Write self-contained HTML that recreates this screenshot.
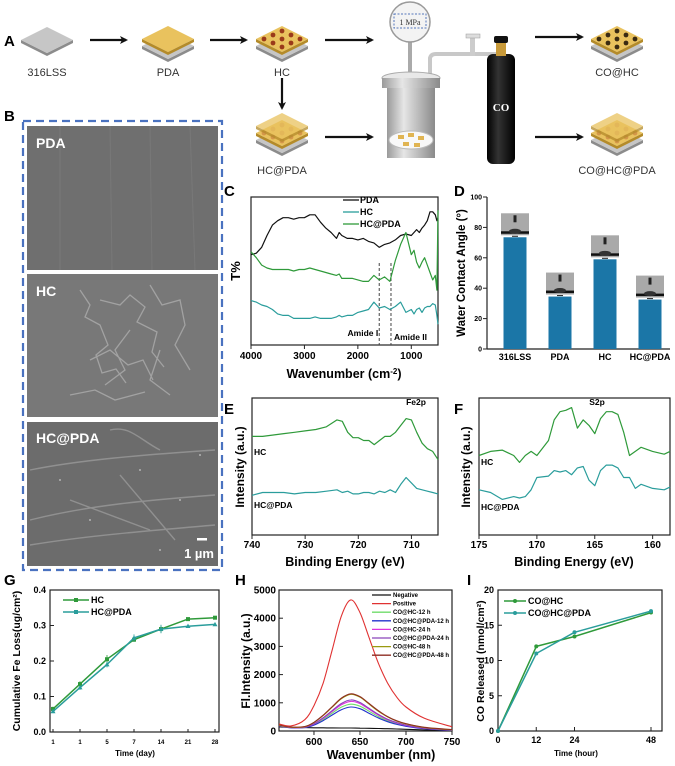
<!DOCTYPE html>
<html><head><meta charset="utf-8">
<style>
html,body{margin:0;padding:0;background:#fff;}
svg{display:block;font-family:"Liberation Sans",Arial,sans-serif;}
.b{font-weight:bold;}
</style></head>
<body>
<svg id="fig" width="675" height="766" viewBox="0 0 675 766" xmlns="http://www.w3.org/2000/svg">
<defs>
<marker id="ar" markerWidth="8" markerHeight="8" refX="6" refY="4" orient="auto" markerUnits="userSpaceOnUse"><path d="M0,0 L8,4 L0,8 L2,4 Z" fill="#111"/></marker>
<g id="steel"><polygon points="-26,0 0,13 26,0 26,3 0,16 -26,3" fill="#8c8c8c"/><polygon points="0,-13 26,0 0,13 -26,0" fill="#c6c6c6"/></g>
<g id="gold"><polygon points="-26,0 0,13 26,0 26,3 0,16 -26,3" fill="#b48b2a"/><polygon points="0,-13 26,0 0,13 -26,0" fill="#e9c25e"/></g>
<g id="dotsR"><circle cx="0" cy="-8" r="2.4" fill="#9a3a1a"/><circle cx="-9" cy="-4" r="2.4" fill="#9a3a1a"/><circle cx="9" cy="-4" r="2.4" fill="#9a3a1a"/><circle cx="-18" cy="0" r="2.4" fill="#9a3a1a"/><circle cx="0" cy="0" r="2.4" fill="#9a3a1a"/><circle cx="18" cy="0" r="2.4" fill="#9a3a1a"/><circle cx="-9" cy="4" r="2.4" fill="#9a3a1a"/><circle cx="9" cy="4" r="2.4" fill="#9a3a1a"/><circle cx="0" cy="8" r="2.4" fill="#9a3a1a"/></g>
<g id="dotsD"><circle cx="0" cy="-8" r="2.4" fill="#3a2a12"/><circle cx="-9" cy="-4" r="2.4" fill="#3a2a12"/><circle cx="9" cy="-4" r="2.4" fill="#3a2a12"/><circle cx="-18" cy="0" r="2.4" fill="#3a2a12"/><circle cx="0" cy="0" r="2.4" fill="#3a2a12"/><circle cx="18" cy="0" r="2.4" fill="#3a2a12"/><circle cx="-9" cy="4" r="2.4" fill="#3a2a12"/><circle cx="9" cy="4" r="2.4" fill="#3a2a12"/><circle cx="0" cy="8" r="2.4" fill="#3a2a12"/></g>
<g id="dotsL"><circle cx="0" cy="-8" r="2.4" fill="#d4964a"/><circle cx="-9" cy="-4" r="2.4" fill="#d4964a"/><circle cx="9" cy="-4" r="2.4" fill="#d4964a"/><circle cx="-18" cy="0" r="2.4" fill="#d4964a"/><circle cx="0" cy="0" r="2.4" fill="#d4964a"/><circle cx="18" cy="0" r="2.4" fill="#d4964a"/><circle cx="-9" cy="4" r="2.4" fill="#d4964a"/><circle cx="9" cy="4" r="2.4" fill="#d4964a"/><circle cx="0" cy="8" r="2.4" fill="#d4964a"/></g>
<linearGradient id="metal" x1="0" x2="1"><stop offset="0" stop-color="#9a9a9a"/><stop offset="0.35" stop-color="#e6e6e6"/><stop offset="1" stop-color="#8a8a8a"/></linearGradient>
<linearGradient id="cyl" x1="0" x2="1"><stop offset="0" stop-color="#000"/><stop offset="0.4" stop-color="#333"/><stop offset="1" stop-color="#000"/></linearGradient>
</defs>

<!-- Panel A -->
<g>
<text x="4" y="46" class="b" font-size="15">A</text>
<g><use href="#steel" x="47" y="40"/></g>
<text x="47" y="76" font-size="11" text-anchor="middle" fill="#333">316LSS</text>
<g><use href="#steel" x="168" y="46"/><use href="#gold" x="168" y="39"/></g>
<text x="168" y="76" font-size="11" text-anchor="middle" fill="#333">PDA</text>
<g><use href="#steel" x="282" y="46"/><use href="#gold" x="282" y="39"/><use href="#dotsR" x="282" y="39"/></g>
<text x="282" y="76" font-size="11" text-anchor="middle" fill="#333">HC</text>
<g><use href="#steel" x="617" y="46"/><use href="#gold" x="617" y="39"/><use href="#dotsD" x="617" y="39"/></g>
<text x="617" y="76" font-size="11" text-anchor="middle" fill="#333">CO@HC</text>
<g><use href="#steel" x="282" y="140"/><use href="#gold" x="282" y="133"/><use href="#dotsL" x="282" y="133"/><use href="#gold" x="282" y="126" opacity="0.75"/></g>
<text x="282" y="174" font-size="11" text-anchor="middle" fill="#333">HC@PDA</text>
<g><use href="#steel" x="617" y="140"/><use href="#gold" x="617" y="133"/><use href="#dotsL" x="617" y="133"/><use href="#gold" x="617" y="126" opacity="0.75"/></g>
<text x="617" y="174" font-size="11" text-anchor="middle" fill="#333">CO@HC@PDA</text>
<g stroke="#111" stroke-width="2.2" marker-end="url(#ar)">
<line x1="90" y1="40" x2="126" y2="40"/><line x1="210" y1="40" x2="246" y2="40"/><line x1="325" y1="40" x2="372" y2="40"/><line x1="535" y1="37" x2="582" y2="37"/>
<line x1="282" y1="78" x2="282" y2="108"/><line x1="325" y1="137" x2="372" y2="137"/><line x1="535" y1="137" x2="582" y2="137"/>
</g>
<g>
<rect x="408" y="40" width="4" height="34" fill="#aaa"/>
<circle cx="410" cy="22" r="20" fill="#f3f3f3" stroke="#9a9a9a" stroke-width="1.5"/>
<rect x="394" y="14" width="32" height="14" fill="none" stroke="#5577bb" stroke-dasharray="2,1.5"/>
<text x="410" y="25" font-size="8" text-anchor="middle" font-family="Liberation Serif,serif" fill="#333">1 MPa</text>
<path d="M430,78 L430,58 Q431,54 436,54 L500,54" fill="none" stroke="#c8c8c8" stroke-width="4"/>
<rect x="470" y="36" width="5" height="20" fill="#ccc"/><rect x="466" y="34" width="14" height="4" fill="#ddd" stroke="#999" stroke-width="0.5"/>
<ellipse cx="411" cy="78" rx="29" ry="6" fill="#e8e8e8" stroke="#aaa"/>
<rect x="382" y="78" width="58" height="10" fill="url(#metal)"/>
<rect x="387" y="88" width="48" height="70" fill="url(#metal)"/>
<ellipse cx="411" cy="140" rx="22" ry="9" fill="#f8f8f8" stroke="#bbb"/>
<g fill="#e0b452"><rect x="398" y="135" width="6" height="4"/><rect x="408" y="133" width="6" height="4"/><rect x="418" y="136" width="6" height="4"/><rect x="403" y="142" width="6" height="4"/><rect x="414" y="143" width="6" height="4"/></g>
</g>
<g>
<rect x="487" y="54" width="28" height="110" rx="6" fill="url(#cyl)"/>
<rect x="496" y="42" width="10" height="14" fill="#c89a3a"/>
<rect x="494" y="36" width="14" height="7" rx="2" fill="#111"/>
<text x="501" y="111" font-size="11" text-anchor="middle" fill="#fff" font-family="Liberation Serif,serif" class="b">CO</text>
</g>
</g>

<!-- Panel B -->
<g>
<text x="4" y="121" class="b" font-size="15">B</text>
<rect x="23" y="121" width="199" height="449" fill="none" stroke="#4a72c0" stroke-width="2.2" stroke-dasharray="8,5"/>
<rect x="27" y="126" width="191" height="144" fill="#6f6f6f"/>
<g stroke="#7c7c7c" stroke-width="1" opacity="0.7"><line x1="60" y1="126" x2="60" y2="270"/><line x1="110" y1="126" x2="112" y2="270"/><line x1="150" y1="126" x2="152" y2="270"/><line x1="190" y1="126" x2="195" y2="270"/></g>
<rect x="27" y="274" width="191" height="143" fill="#787878"/>
<g fill="none" stroke="#a6a6a6" stroke-width="1.3" opacity="0.9">
<path d="M80,290 l10,15 l-5,12 l15,8 l8,20 l-12,10 l6,18 l14,-4 l10,14 M100,300 l20,5 l10,-10 l15,12 l-8,15 l20,10 l-5,20 l12,15 M130,330 l-15,20 l10,20 l-20,15 M150,285 l12,20 l18,-5 l5,25 l-10,20 l15,25 M90,360 l20,-10 l18,15 l15,-5 l10,20 M70,395 l25,-5 l20,10 l30,-8 M160,350 l-10,30 l20,15"/>
</g>
<rect x="27" y="422" width="191" height="144" fill="#6c6c6c"/>
<g fill="none" stroke="#959595" stroke-width="1.4" opacity="0.9">
<path d="M30,470 C80,460 140,455 215,450 M30,520 C90,505 150,500 215,495 M30,545 C90,535 160,530 215,525 M110,430 C130,425 140,440 160,450 M70,500 L150,530 M120,475 L175,540"/>
</g>
<g fill="#b4b4b4"><circle cx="60" cy="480" r="1"/><circle cx="140" cy="470" r="1"/><circle cx="180" cy="500" r="1"/><circle cx="90" cy="520" r="1"/><circle cx="200" cy="455" r="1"/><circle cx="160" cy="550" r="1"/></g>
<text x="36" y="148" fill="#fff" class="b" font-size="14">PDA</text>
<text x="36" y="296" fill="#fff" class="b" font-size="14">HC</text>
<text x="36" y="443" fill="#fff" class="b" font-size="14">HC@PDA</text>
<rect x="197" y="538" width="10" height="2.5" fill="#fff"/>
<text x="214" y="558" fill="#fff" class="b" font-size="13" text-anchor="end">1 µm</text>
</g>

<g id="charts"></g>
</svg>

<script>
const NS='http://www.w3.org/2000/svg';
const root=document.getElementById('charts');
function mk(tag,attrs,parent){const e=document.createElementNS(NS,tag);for(const k in attrs)e.setAttribute(k,attrs[k]);(parent||root).appendChild(e);return e;}
function txt(x,y,s,size,opts,parent){const e=mk('text',Object.assign({x:x,y:y,'font-size':size},opts||{}),parent);e.textContent=s;return e;}
function lin(d0,d1,r0,r1){return v=>r0+(v-d0)/(d1-d0)*(r1-r0);}
function pathFrom(xsArr,ysArr){return xsArr.map((x,i)=>(i?'L':'M')+x.toFixed(1)+','+ysArr[i].toFixed(1)).join(' ');}
function smoothPath(px,py){let d='M'+px[0]+','+py[0];for(let i=0;i<px.length-1;i++){const x0=px[Math.max(i-1,0)],y0=py[Math.max(i-1,0)],x1=px[i],y1=py[i],x2=px[i+1],y2=py[i+1],x3=px[Math.min(i+2,px.length-1)],y3=py[Math.min(i+2,px.length-1)];d+=' C'+(x1+(x2-x0)/6).toFixed(1)+','+(y1+(y2-y0)/6).toFixed(1)+' '+(x2-(x3-x1)/6).toFixed(1)+','+(y2-(y3-y1)/6).toFixed(1)+' '+x2.toFixed(1)+','+y2.toFixed(1);}return d;}

/* ---------------- Panel C data ---------------- */
const cWavenumbers=[4000,3900,3800,3700,3600,3500,3400,3300,3200,3100,3000,2900,2800,2700,2600,2500,2400,2350,2300,2200,2100,2000,1900,1800,1700,1600,1500,1400,1300,1200,1100,1000,950,900,850,800,750,700,650,600,550,520,500];
const cPDA=[61,62,66,74,81,84,86,86,85,86,86,88,88,83,79,76,72,76,74,72,72,71,72,70,69,66,68,69,71,74,75,74,76,78,76,79,81,84,90,90,88,84,86];
const cHCPDA=[63,59,54,52,51,51,51,51,50,51,51,52,51,50,49,48,47,48,45,45,45,44,43,43,47,44,46,43,57,68,76,61,64,56,52,56,59,54,49,44,47,37,91];
const cHC=[30,29,27,26,24,21,20,20,18,18,18,18,19,18,18,18,19,20,19,20,20,22,23,24,29,25,26,24,26,29,22,24,21,24,25,22,25,26,26,28,27,20,14];
const cTickLabels=['4000','3000','2000','1000'];
const cAmideMarks=[1600,1380];

/* ---------------- Panel D data ---------------- */
const dCategories=['316LSS','PDA','HC','HC@PDA'];
const dAngles=[73.5,34.5,59,32.5];
const dTicks=[0,20,40,60,80,100];

/* ---------------- Panel E / F data ---------------- */
const eEnergies=[740,738,736,734,732,730,728,726,724,723,722,721,720,719,718,717,716,715,714,713,712,711,710,709,708,707,706,705];
const eHC=[72,72,73,74,75,76,77,79,84,83,75,71,71,69,69,66,69,72,72,75,80,85,84,75,67,63,61,55];
const eHCPDA=[29,31,31,31,30,31,31,32,33,31,32,30,30,31,31,30,32,31,33,31,37,42,38,34,33,32,31,30];
const eTicks=[740,730,720,710];
const fEnergies=[175,174,173,172,171.5,171,170.5,170,169,168.5,168,167.5,167,166.5,166,165.5,165,164.5,164,163.5,163,162.5,162,161.5,161,160,159,158.5];
const fHC=[58,61,62,58,53,58,61,58,69,84,90,91,93,78,84,80,74,85,90,90,88,75,58,61,64,61,59,61];
const fHCPDA=[33,31,26,28,27,28,33,42,43,47,46,47,44,49,50,40,36,47,51,51,49,42,42,34,37,34,33,35];
const fTicks=[175,170,165,160];

/* ---------------- Panel G data ---------------- */
const gDays=['1','1','5','7','14','21','28'];
const gHC=[0.065,0.135,0.205,0.26,0.29,0.318,0.322];
const gHCPDA=[0.058,0.125,0.19,0.265,0.29,0.298,0.303];
const gHCErr=[0.006,0.008,0.012,0.006,0.01,0.004,0.004];
const gHCPDAErr=[0.005,0.006,0.008,0.01,0.012,0.004,0.004];
const gTicks=[0,0.1,0.2,0.3,0.4];

/* ---------------- Panel H data ---------------- */
const hWavelengths=[562,575,590,600,610,620,630,640,650,660,670,680,690,700,720,750];
const hNegative=[150,130,120,115,112,110,108,105,100,95,88,80,70,60,40,20];
const hPositive=[250,180,400,900,1700,2900,4100,4650,4200,3300,2400,1700,1200,850,450,150];
const hCOHC12=[185,120,130,230,410,640,850,950,880,700,510,365,260,180,85,25];
const hCOHCPDA12=[180,115,120,210,370,570,760,850,790,625,460,330,235,165,80,20];
const hCOHC24=[190,125,135,250,450,700,935,1050,970,770,565,400,285,200,95,30];
const hCOHCPDA24=[200,130,140,260,470,730,980,1100,1010,800,590,420,300,210,100,30];
const hCOHC48=[200,130,150,300,550,850,1150,1300,1200,950,700,500,350,250,120,40];
const hCOHCPDA48=[220,140,160,310,560,870,1170,1320,1220,970,720,510,360,260,130,50];
const hSeriesNames=['Negative','Positive','CO@HC-12 h','CO@HC@PDA-12 h','CO@HC-24 h','CO@HC@PDA-24 h','CO@HC-48 h','CO@HC@PDA-48 h'];
const hYTicks=[0,1000,2000,3000,4000,5000];
const hXTicks=[600,650,700,750];

/* ---------------- Panel I data ---------------- */
const iHours=[0,12,24,48];
const iCOHC=[0,12,13.4,16.8];
const iCOHCPDA=[0,11,14,17];
const iYTicks=[0,5,10,15,20];

const GREEN='#2f9a3a', TEAL='#2a9d9c';

function panelLabel(x,y,s,name){const t=txt(x,y,s,15,{'font-weight':'bold'});}
function frame(x0,y0,x1,y1,name){const r=mk('rect',{x:x0,y:y0,width:x1-x0,height:y1-y0,fill:'none',stroke:'#222','stroke-width':1.2});}
function series(d,color,name,w){const p=mk('path',{d:d,fill:'none',stroke:color,'stroke-width':w||1.2,'stroke-linejoin':'round'});return p;}
function axisTitle(x,y,s,size,rot,name){const t=txt(x,y,s,size,{'font-weight':'bold','text-anchor':'middle',transform:rot?('rotate(-90 '+x+' '+y+')'):''});return t;}

/* ---- Panel C ---- */
(function(){
const g=mk('g',{});
panelLabel(224,196,'C','panel-label-c');
const xs=lin(4000,500,251,438), ys=lin(0,100,345,197);
frame(251,197,438,345,'c-plot-frame');
cTickLabels.forEach(l=>{const x=xs(+l);mk('line',{x1:x,y1:345,x2:x,y2:349,stroke:'#222'});const t=txt(x,359,l,10,{'font-weight':'bold','text-anchor':'middle'});});
cAmideMarks.forEach(w=>{const l=mk('line',{x1:xs(w),y1:263,x2:xs(w),y2:345,stroke:'#444','stroke-dasharray':'3,2'});});
let t=txt(xs(cAmideMarks[0])-1,336,'Amide I',8.5,{'font-weight':'bold','text-anchor':'end'});
t=txt(xs(cAmideMarks[1])+3,340,'Amide II',8.5,{'font-weight':'bold'});
const px=cWavenumbers.map(xs);
series(pathFrom(px,cPDA.map(ys)),'#111','c-line-pda');
series(pathFrom(px,cHCPDA.map(ys)),GREEN,'c-line-hc-pda');
series(pathFrom(px,cHC.map(ys)),TEAL,'c-line-hc');
[['PDA','#111',203],['HC',TEAL,215],['HC@PDA',GREEN,227]].forEach(e=>{mk('line',{x1:343,y1:e[2]-3,x2:359,y2:e[2]-3,stroke:e[1],'stroke-width':1.3});const tt=txt(360,e[2],e[0],9,{'font-weight':'bold'});});
axisTitle(240,271,'T%',13,true,'c-y-axis-title');
const xt=txt(344,378,'Wavenumber (cm',12.5,{'font-weight':'bold','text-anchor':'middle'});
const ts=mk('tspan',{'baseline-shift':'super','font-size':8},xt);ts.textContent='-2';const ts2=mk('tspan',{},xt);ts2.textContent=')';
})();

/* ---- Panel D ---- */
(function(){
panelLabel(454,196,'D','panel-label-d');
const ys=lin(0,100,349,197);
const xPos=i=>515+i*45;
mk('line',{x1:487,y1:197,x2:487,y2:349,stroke:'#222','stroke-width':1.2});
mk('line',{x1:487,y1:349,x2:670,y2:349,stroke:'#222','stroke-width':1.2});
dTicks.forEach(v=>{mk('line',{x1:483,y1:ys(v),x2:487,y2:ys(v),stroke:'#222'});const t=txt(482,ys(v)+2.5,String(v),7,{'font-weight':'bold','text-anchor':'end'});});
dCategories.forEach((c,i)=>{
 const x=xPos(i), y=ys(dAngles[i]);
 const r=mk('rect',{x:x-11.5,y:y,width:23,height:349-y,fill:'#1b76a7'});
 
 
 mk('line',{x1:x-3,y1:y-1,x2:x+3,y2:y-1,stroke:'#222'});
 const ins=mk('rect',{x:x-14,y:y-24,width:28,height:22,fill:'#a9a9a9'});
 
 
 mk('rect',{x:x-14,y:y-6,width:28,height:2.5,fill:'#111'});
 mk('ellipse',{cx:x,cy:y-6,rx:6,ry:2.5,fill:'#333'});
 mk('rect',{x:x-1.5,y:y-22,width:3,height:7,fill:'#222'});
 const t=txt(x,360,c,9,{'font-weight':'bold','text-anchor':'middle'});
});
axisTitle(465,273,'Water Contact Angle (°)',11.5,true,'d-y-axis-title');
})();

/* ---- Panels E, F ---- */
function xps(x0,x1,dom0,dom1,ticks,energies,hc,hcpda,lab,labX,peakLbl,peakX,hcY,pdaY,letter,letterX,titleX,ylabX){
 panelLabel(letterX,414,letter,'panel-label-'+letter.toLowerCase());
 const xs=lin(dom0,dom1,x0,x1), ys=lin(0,100,535,398);
 frame(x0,398,x1,535,letter.toLowerCase()+'-plot-frame');
 ticks.forEach(v=>{mk('line',{x1:xs(v),y1:535,x2:xs(v),y2:539,stroke:'#222'});const t=txt(xs(v),548,String(v),10,{'font-weight':'bold','text-anchor':'middle'});});
 const px=energies.map(xs);
 series(pathFrom(px,hc.map(ys)),GREEN,letter.toLowerCase()+'-line-hc');
 series(pathFrom(px,hcpda.map(ys)),TEAL,letter.toLowerCase()+'-line-hc-pda');
 let t=txt(x0+2,hcY,'HC',8.5,{'font-weight':'bold'});
 t=txt(x0+2,pdaY,'HC@PDA',8.5,{'font-weight':'bold'});
 t=txt(peakX,405,peakLbl,8.5,{'font-weight':'bold','text-anchor':'middle'});
 axisTitle(titleX,566,'Binding Energy (eV)',12.5,false,letter.toLowerCase()+'-x-axis-title');
 axisTitle(ylabX,467,'Intensity (a.u.)',12,true,letter.toLowerCase()+'-y-axis-title');
}
xps(252,438,740,705,eTicks,eEnergies,eHC,eHCPDA,'E',0,'Fe2p',416,455,508,'E',224,345,244);
xps(479,670,175,158.5,fTicks,fEnergies,fHC,fHCPDA,'F',0,'S2p',597,465,510,'F',454,574,470);

/* ---- Panel G ---- */
(function(){
panelLabel(4,585,'G','panel-label-g');
const xs=i=>53+i*27, ys=lin(0,0.4,732,590);
frame(50,590,219,732,'g-plot-frame');
gTicks.forEach(v=>{mk('line',{x1:50,y1:ys(v),x2:54,y2:ys(v),stroke:'#222'});const t=txt(46,ys(v)+3,v.toFixed(1),9,{'font-weight':'bold','text-anchor':'end'});});
gDays.forEach((d,i)=>{mk('line',{x1:xs(i),y1:732,x2:xs(i),y2:729,stroke:'#222'});const t=txt(xs(i),744,d,6,{'font-weight':'bold','text-anchor':'middle'});});
[[gHC,gHCErr,GREEN,'hc','sq'],[gHCPDA,gHCPDAErr,TEAL,'hc-pda','tri']].forEach(s=>{
 const px=s[0].map((v,i)=>xs(i)), py=s[0].map(ys);
 series(pathFrom(px,py),s[2],'g-line-'+s[3],1.5);
 s[0].forEach((v,i)=>{
  mk('line',{x1:px[i],y1:ys(v+s[1][i]),x2:px[i],y2:ys(v-s[1][i]),stroke:s[2],'stroke-width':0.8});
  const m=s[4]==='sq'?mk('rect',{x:px[i]-2,y:py[i]-2,width:4,height:4,fill:s[2]}):mk('polygon',{points:(px[i])+','+(py[i]-2.6)+' '+(px[i]+2.5)+','+(py[i]+1.8)+' '+(px[i]-2.5)+','+(py[i]+1.8),fill:s[2]});
  
  
 });
});
[['HC',GREEN,603,'sq'],['HC@PDA',TEAL,615,'tri']].forEach(e=>{mk('line',{x1:63,y1:e[2]-3,x2:89,y2:e[2]-3,stroke:e[1],'stroke-width':1.5});mk('rect',{x:74,y:e[2]-5,width:4,height:4,fill:e[1]});const t=txt(91,e[2],e[0],9,{'font-weight':'bold'});});
axisTitle(20,661,'Cumulative Fe Loss(ug/cm²)',10.5,true,'g-y-axis-title');
axisTitle(135,756,'Time (day)',8,false,'g-x-axis-title');
})();

/* ---- Panel H ---- */
(function(){
panelLabel(235,585,'H','panel-label-h');
const xs=lin(562,750,279,452), ys=lin(0,5000,731,590);
frame(279,590,452,731,'h-plot-frame');
hYTicks.forEach(v=>{mk('line',{x1:279,y1:ys(v),x2:283,y2:ys(v),stroke:'#222'});const t=txt(276,ys(v)+3.5,String(v),10,{'font-weight':'bold','text-anchor':'end'});});
hXTicks.forEach(v=>{mk('line',{x1:xs(v),y1:731,x2:xs(v),y2:735,stroke:'#222'});const t=txt(xs(v),745,String(v),10,{'font-weight':'bold','text-anchor':'middle'});});
const all=[hNegative,hPositive,hCOHC12,hCOHCPDA12,hCOHC24,hCOHCPDA24,hCOHC48,hCOHCPDA48];
const cols=['#111','#e03232','#6fdc6a','#2233cc','#dd33dd','#8a44bb','#9a9a10','#8e2d22'];
const px=hWavelengths.map(xs);
[0,2,3,4,5,6,7,1].forEach(k=>{series(smoothPath(px,all[k].map(ys)),cols[k],'h-curve-'+hSeriesNames[k].toLowerCase().replace(/[@ ]/g,'-'),1.1);});
hSeriesNames.forEach((n,k)=>{const y=597+k*8.6;mk('line',{x1:372,y1:y-2,x2:391,y2:y-2,stroke:cols[k],'stroke-width':1.3});const t=txt(393,y,n,6,{'font-weight':'bold'});});
axisTitle(250,661,'Fl.Intensity (a.u.)',12,true,'h-y-axis-title');
axisTitle(381,759,'Wavenumber (nm)',12.5,false,'h-x-axis-title');
})();

/* ---- Panel I ---- */
(function(){
panelLabel(467,585,'I','panel-label-i');
const xs=lin(0,48,498,651), ys=lin(0,20,731,590);
frame(498,590,662,731,'i-plot-frame');
iYTicks.forEach(v=>{mk('line',{x1:498,y1:ys(v),x2:502,y2:ys(v),stroke:'#222'});const t=txt(494,ys(v)+3,String(v),9,{'font-weight':'bold','text-anchor':'end'});});
iHours.forEach(v=>{mk('line',{x1:xs(v),y1:731,x2:xs(v),y2:727,stroke:'#222'});const t=txt(xs(v),743,String(v),9,{'font-weight':'bold','text-anchor':'middle'});});
[[iCOHC,GREEN,'co-hc'],[iCOHCPDA,TEAL,'co-hc-pda']].forEach(s=>{
 const px=iHours.map(xs), py=s[0].map(ys);
 series(pathFrom(px,py),s[1],'i-line-'+s[2],1.5);
 s[0].forEach((v,i)=>{const c=mk('circle',{cx:px[i],cy:py[i],r:2,fill:s[1]});});
});
[['CO@HC',GREEN,604],['CO@HC@PDA',TEAL,616]].forEach(e=>{mk('line',{x1:504,y1:e[2]-3,x2:526,y2:e[2]-3,stroke:e[1],'stroke-width':1.5});mk('circle',{cx:515,cy:e[2]-3,r:2,fill:e[1]});const t=txt(528,e[2],e[0],9,{'font-weight':'bold'});});
axisTitle(484,661,'CO Released (nmol/cm²)',10.5,true,'i-y-axis-title');
axisTitle(576,756,'Time (hour)',8,false,'i-x-axis-title');
})();
</script>
</body></html>
